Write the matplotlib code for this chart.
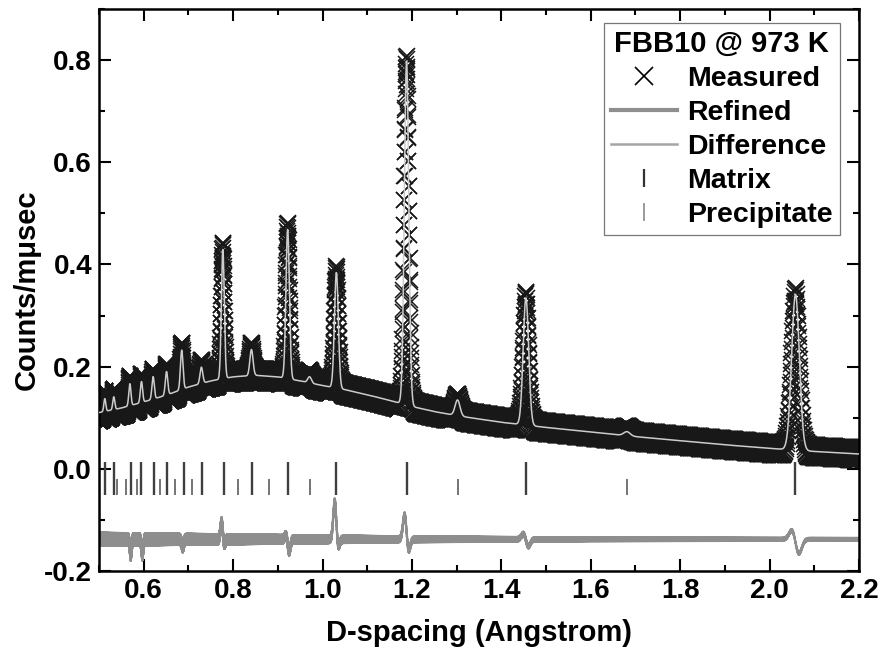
import numpy as np
import matplotlib
matplotlib.use("Agg")
import matplotlib.pyplot as plt
from matplotlib.lines import Line2D
from matplotlib.ticker import MultipleLocator

plt.rcParams['font.family'] = ['Liberation Sans', 'DejaVu Sans']
plt.rcParams['font.weight'] = 'bold'
plt.rcParams['axes.unicode_minus'] = False

# background of the refined profile (d in Angstrom)
bg_d = [0.50, 0.55, 0.60, 0.65, 0.70, 0.75, 0.80, 0.85, 0.90, 0.95, 1.00, 1.05, 1.10,
        1.15, 1.20, 1.25, 1.30, 1.40, 1.50, 1.60, 1.70, 1.80, 1.90, 2.00, 2.10, 2.20]
bg_y = [0.110, 0.119, 0.131, 0.144, 0.160, 0.172, 0.180, 0.183, 0.180, 0.172, 0.163,
        0.155, 0.145, 0.134, 0.122, 0.112, 0.104, 0.091, 0.081, 0.072, 0.063, 0.055,
        0.047, 0.040, 0.034, 0.029]

# Bragg peaks: position and height above background
peak_d = [0.513, 0.533, 0.569, 0.595, 0.621, 0.651, 0.685, 0.729, 0.777, 0.841,
          0.922, 0.971, 1.031, 1.188, 1.302, 1.455, 1.681, 2.058]
peak_amp = [0.025, 0.025, 0.043, 0.041, 0.044, 0.046, 0.077, 0.032, 0.253, 0.051,
            0.292, 0.012, 0.226, 0.672, 0.031, 0.249, 0.008, 0.305]
peak_rel_sigma = 0.0042   # sigma / d

# scatter of measured points (half width of the black band) and of the difference curve
spread_d = [0.5, 0.8, 1.2, 1.6, 2.2]
meas_spread = [0.016, 0.013, 0.012, 0.012, 0.012]
diff_spread = [0.013, 0.010, 0.006, 0.004, 0.003]

# difference curve: baseline and misfit lobes at the peaks
diff_base = -0.138
diff_d = [0.569, 0.595, 0.685, 0.777, 0.922, 1.031, 1.188, 1.455, 2.058]
diff_up = [0.000, 0.000, 0.000, 0.035, 0.010, 0.075, 0.050, 0.012, 0.020]
diff_down = [0.030, 0.030, 0.015, 0.012, 0.025, 0.018, 0.025, 0.015, 0.030]

# reflection markers
matrix_d = [0.513, 0.533, 0.571, 0.595, 0.623, 0.653, 0.690, 0.731, 0.780, 0.842,
            0.923, 1.031, 1.189, 1.455, 2.057]
precip_d = [0.541, 0.560, 0.584, 0.636, 0.670, 0.709, 0.810, 0.880, 0.972, 1.302, 1.680]

legend_title = "FBB10 @ 973 K"
legend_labels = ["Measured", "Refined", "Difference", "Matrix", "Precipitate"]

# TOF style sampling: constant d-step / d
d = np.exp(np.arange(np.log(0.5), np.log(2.2), 0.00025))
refined = np.interp(d, bg_d, bg_y)
for c, a in zip(peak_d, peak_amp):
    s = peak_rel_sigma * c
    refined = refined + a * np.exp(-0.5 * ((d - c) / s) ** 2)

alt = np.where(np.arange(len(d)) % 2 == 0, 1.0, -1.0)
measured = refined + alt * np.interp(d, spread_d, meas_spread)

diff = np.full_like(d, diff_base)
for c, u, w in zip(diff_d, diff_up, diff_down):
    s = 0.8 * peak_rel_sigma * c
    diff = diff + u * np.exp(-0.5 * ((d - c + s) / s) ** 2) - w * np.exp(-0.5 * ((d - c - s) / s) ** 2)
diff = diff + alt * np.interp(d, spread_d, diff_spread)

fig = plt.figure(figsize=(8.88, 6.53), dpi=100)
ax = fig.add_axes([0.1115, 0.1256, 0.8558, 0.8606])

ax.plot(d, measured, ls='none', marker='x', markersize=12, mew=1.1, color='#181818', zorder=2)
ax.plot(d, refined, color='#cccccc', lw=1.1, zorder=3)
ax.plot(d, diff, color='#8e8e8e', lw=1.4, zorder=2)
ax.vlines(matrix_d, -0.051, 0.014, color='#3f3f3f', lw=1.7, zorder=2)
ax.vlines(precip_d, -0.051, -0.019, color='#747474', lw=1.4, zorder=2)

ax.set_xlim(0.5, 2.2)
ax.set_ylim(-0.2, 0.9)
ax.xaxis.set_minor_locator(MultipleLocator(0.1))
ax.yaxis.set_minor_locator(MultipleLocator(0.1))
xt = np.round(np.arange(0.6, 2.21, 0.2), 1)
yt = np.round(np.arange(-0.2, 0.81, 0.2), 1)
ax.set_xticks(xt)
ax.set_xticklabels([f"{v:.1f}" for v in xt])
ax.set_yticks(yt)
ax.set_yticklabels([f"{v:.1f}" for v in yt])
ax.tick_params(which='both', direction='in', top=True, right=True, width=1.5, labelsize=20, pad=5)
ax.tick_params(which='major', length=8.5)
ax.tick_params(which='minor', length=4.5)
for sp in ax.spines.values():
    sp.set_linewidth(1.8)

ax.set_xlabel("D-spacing (Angstrom)", fontsize=21, fontweight='bold', labelpad=11)
ax.set_ylabel("Counts/m\u03bcsec", fontsize=21, fontweight='bold')
ax.yaxis.set_label_coords(-0.077, 0.5)

handles = [
    Line2D([], [], ls='none', marker='x', markersize=13, mew=1.2, color='k'),
    Line2D([], [], color='#8f8f8f', lw=3),
    Line2D([], [], color='#a5a5a5', lw=1.8),
    Line2D([], [], ls='none', marker='|', markersize=13, mew=1.6, color='#333333'),
    Line2D([], [], ls='none', marker='|', markersize=13, mew=1.2, color='#8a8a8a'),
]
leg = ax.legend(handles, legend_labels, title=legend_title, loc='upper right',
                bbox_to_anchor=(0.9745, 0.9755), borderaxespad=0, fancybox=False,
                framealpha=1, edgecolor='#777777', prop={'size': 20.5, 'weight': 'bold'},
                title_fontproperties={'size': 21, 'weight': 'bold'},
                handlelength=2.3, handletextpad=0.35, labelspacing=0.28, borderpad=0.25)
leg.get_frame().set_linewidth(0.9)

fig.savefig("out.png", dpi=100)
